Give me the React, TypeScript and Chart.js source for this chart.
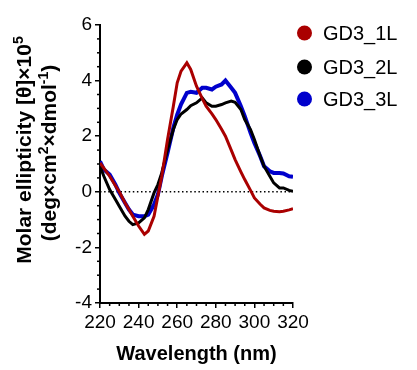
import React, { useEffect, useRef } from "react";
import { Chart, registerables } from "chart.js";

Chart.register(...registerables);

const wavelengths = [220, 222, 225, 228, 230, 233, 235, 237, 240, 243, 245, 248, 250, 252, 255, 258, 260, 262, 265, 267, 270, 273, 275, 278, 280, 283, 285, 288, 290, 293, 295, 298, 300, 303, 305, 308, 310, 313, 315, 318, 320];

const gd3_1L = [1.04, 0.85, 0.56, 0.22, 0.0, -0.4, -0.64, -0.88, -1.23, -1.53, -1.41, -0.88, -0.16, 0.56, 1.88, 3.08, 3.92, 4.34, 4.64, 4.4, 3.8, 3.35, 3.08, 2.8, 2.6, 2.25, 2.0, 1.5, 1.16, 0.72, 0.44, 0.05, -0.22, -0.45, -0.58, -0.67, -0.7, -0.72, -0.7, -0.65, -0.61];

const gd3_2L = [0.92, 0.56, 0.08, -0.28, -0.52, -0.88, -1.06, -1.18, -1.12, -0.94, -0.64, -0.04, 0.26, 0.68, 1.52, 2.24, 2.6, 2.8, 2.96, 3.1, 3.2, 3.38, 3.2, 3.08, 3.08, 3.14, 3.2, 3.26, 3.22, 2.96, 2.6, 2.24, 1.88, 1.28, 0.92, 0.56, 0.32, 0.14, 0.14, 0.05, 0.02];

const gd3_3L = [1.1, 0.8, 0.62, 0.26, -0.04, -0.4, -0.64, -0.82, -0.88, -0.88, -0.82, -0.46, -0.1, 0.56, 1.4, 2.3, 2.78, 3.15, 3.56, 3.6, 3.56, 3.74, 3.74, 3.68, 3.78, 3.86, 4.0, 3.74, 3.56, 3.08, 2.72, 2.12, 1.76, 1.28, 0.92, 0.74, 0.68, 0.68, 0.66, 0.56, 0.54];

const seriesNames = ["GD3_1L", "GD3_2L", "GD3_3L"];
const seriesColors = ["#AA0000", "#000000", "#0000CC"];
const seriesWidths = [3, 3, 4];

const xTicks = [220, 240, 260, 280, 300, 320];
const yTicks = [-4, -2, 0, 2, 4, 6];

const FONT = '"Liberation Sans", Arial, sans-serif';

type Seg = { t: string; sup?: boolean };

function drawRich(ctx: CanvasRenderingContext2D, segs: Seg[], size: number, bold: boolean) {
  const base = `${bold ? "bold " : ""}${size}px ${FONT}`;
  const small = `${bold ? "bold " : ""}${Math.round(size * 0.65)}px ${FONT}`;
  let total = 0;
  const widths: number[] = [];
  for (const s of segs) {
    ctx.font = s.sup ? small : base;
    const w = ctx.measureText(s.t).width;
    widths.push(w);
    total += w;
  }
  let x = -total / 2;
  segs.forEach((s, i) => {
    ctx.font = s.sup ? small : base;
    ctx.fillText(s.t, x, s.sup ? -size * 0.38 : 0);
    x += widths[i];
  });
}

const decorPlugin = {
  id: "decor",
  beforeDatasetsDraw(chart: any) {
    const { ctx, chartArea, scales } = chart;
    const y0 = scales.y.getPixelForValue(0);
    ctx.save();
    ctx.strokeStyle = "#000";
    ctx.lineWidth = 1.5;
    ctx.setLineDash([1.5, 2.6]);
    ctx.beginPath();
    ctx.moveTo(chartArea.left, y0);
    ctx.lineTo(chartArea.right, y0);
    ctx.stroke();
    ctx.restore();
  },
  afterDraw(chart: any) {
    const { ctx, chartArea, scales } = chart;
    ctx.save();
    ctx.strokeStyle = "#000";
    ctx.lineWidth = 1.5;
    for (let v = 220; v <= 320; v += 5) {
      if (v % 20 === 0) continue;
      const px = scales.x.getPixelForValue(v);
      ctx.beginPath();
      ctx.moveTo(px, chartArea.bottom);
      ctx.lineTo(px, chartArea.bottom + 3);
      ctx.stroke();
    }
    for (let v = -4; v <= 6; v += 0.5) {
      if (Math.abs(v % 2) < 1e-6) continue;
      const py = scales.y.getPixelForValue(v);
      ctx.beginPath();
      ctx.moveTo(chartArea.left, py);
      ctx.lineTo(chartArea.left - 3, py);
      ctx.stroke();
    }
    ctx.fillStyle = "#000";
    ctx.save();
    ctx.textBaseline = "alphabetic";
    ctx.textAlign = "left";
    ctx.translate(31, 150);
    ctx.rotate(-Math.PI / 2);
    drawRich(ctx, [{ t: "Molar ellipticity [θ]×10" }, { t: "5", sup: true }], 21, true);
    ctx.restore();
    ctx.save();
    ctx.textBaseline = "alphabetic";
    ctx.textAlign = "left";
    ctx.translate(56, 153);
    ctx.rotate(-Math.PI / 2);
    drawRich(ctx, [{ t: "(deg×cm" }, { t: "2", sup: true }, { t: "×dmol" }, { t: "-1", sup: true }, { t: ")" }], 21, true);
    ctx.restore();
    ctx.save();
    ctx.textBaseline = "alphabetic";
    ctx.textAlign = "left";
    ctx.translate((chartArea.left + chartArea.right) / 2, 360);
    drawRich(ctx, [{ t: "Wavelength (nm)" }], 20, true);
    ctx.restore();
    const rows = [33, 67, 99];
    chart.data.datasets.forEach((ds: any, i: number) => {
      ctx.beginPath();
      ctx.fillStyle = ds.borderColor;
      ctx.arc(304.5, rows[i], 7.5, 0, Math.PI * 2);
      ctx.fill();
      ctx.fillStyle = "#000";
      ctx.font = `20px ${FONT}`;
      ctx.textAlign = "left";
      ctx.textBaseline = "middle";
      ctx.fillText(ds.label, 323, rows[i] + 1);
    });
    ctx.restore();
  },
};

export default function App() {
  const ref = useRef<HTMLCanvasElement>(null);
  useEffect(() => {
    document.body.style.margin = "0";
    const series = [gd3_1L, gd3_2L, gd3_3L];
    const chart = new Chart(ref.current!, {
      type: "line",
      data: {
        datasets: series.map((vals, i) => ({
          label: seriesNames[i],
          data: wavelengths.map((w, j) => ({ x: w, y: vals[j] })),
          borderColor: seriesColors[i],
          backgroundColor: seriesColors[i],
          borderWidth: seriesWidths[i],
          pointRadius: 0,
          tension: 0,
          fill: false,
        })),
      },
      options: {
        animation: false,
        responsive: false,
        maintainAspectRatio: false,
        layout: { padding: { top: 25, right: 124, left: 0, bottom: 0 } },
        plugins: { legend: { display: false }, tooltip: { enabled: false }, title: { display: false } },
        scales: {
          x: {
            type: "linear",
            min: 220,
            max: 320,
            afterBuildTicks: (s: any) => {
              s.ticks = xTicks.map((v) => ({ value: v }));
            },
            ticks: { font: { family: FONT, size: 19 }, color: "#000", padding: 3, maxRotation: 0, autoSkip: false },
            grid: { display: true, drawOnChartArea: false, drawTicks: true, tickLength: 5, color: "#000", lineWidth: 1.5 },
            border: { display: true, color: "#000", width: 2 },
            afterFit: (s: any) => {
              s.height = 67;
            },
          },
          y: {
            type: "linear",
            min: -4,
            max: 6,
            afterBuildTicks: (s: any) => {
              s.ticks = yTicks.map((v) => ({ value: v }));
            },
            ticks: { font: { family: FONT, size: 19 }, color: "#000", padding: 3, autoSkip: false },
            grid: { display: true, drawOnChartArea: false, drawTicks: true, tickLength: 5, color: "#000", lineWidth: 1.5 },
            border: { display: true, color: "#000", width: 2 },
            afterFit: (s: any) => {
              s.width = 100;
            },
          },
        },
      },
      plugins: [decorPlugin],
    });
    return () => chart.destroy();
  }, []);
  return <canvas ref={ref} width={417} height={370} style={{ display: "block" }} />;
}
